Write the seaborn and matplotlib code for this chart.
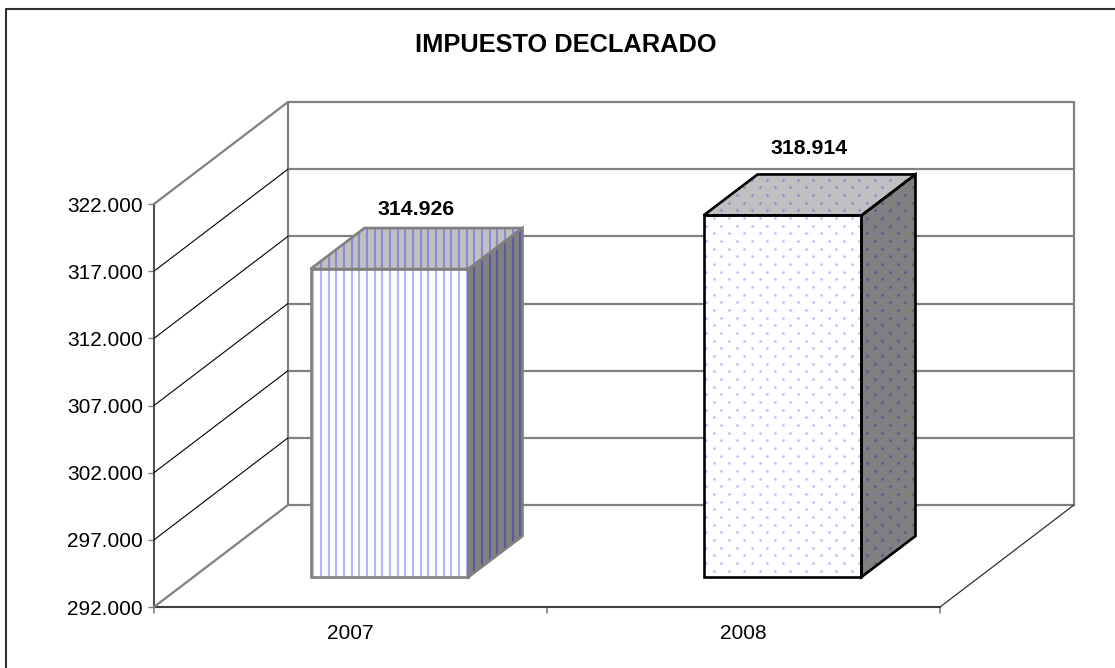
import numpy as np
import matplotlib
matplotlib.use('Agg')
import matplotlib.pyplot as plt
import seaborn as sns
from matplotlib.lines import Line2D
from matplotlib.patches import Polygon
from matplotlib.ticker import FuncFormatter
from matplotlib.transforms import Affine2D, IdentityTransform

TITLE = 'IMPUESTO DECLARADO'
YEARS = ['2007', '2008']
IMPUESTO = [314926, 318914]
Y_MIN = 292000
Y_MAX = 322000
Y_STEP = 5000

W, H = 1115, 668
WALL_DX, WALL_DY = 134, 102
BAR_GAP_DX, BAR_GAP_DY = 39, 30
BAR_DX, BAR_DY = 54, 41
GRAY = '#808080'
PIXELS = IdentityTransform()

sns.set_theme(style='white')
plt.rcParams['font.family'] = ['Liberation Sans', 'DejaVu Sans']

fig = plt.figure(figsize=(W / 100, H / 100), dpi=100, facecolor='white')
ax = fig.add_axes([154 / W, (H - 607) / H, 786 / W, 403 / H])

sns.barplot(x=YEARS, y=IMPUESTO, color='white', width=0.402, saturation=1, ax=ax)
ax.set_xlim(-0.5, 1.5)
ax.set_ylim(Y_MIN, Y_MAX)
ticks = np.arange(Y_MIN, Y_MAX + 1, Y_STEP)
ax.set_yticks(ticks)
ax.yaxis.set_major_formatter(FuncFormatter(lambda v, _: f'{v:,.0f}'.replace(',', '.')))
ax.set_xlabel('')
ax.set_ylabel('')
ax.patch.set_alpha(0)
ax.autoscale(False)

for side in ['top', 'right']:
    ax.spines[side].set_visible(False)
ax.spines['left'].set_color('#505050')
ax.spines['bottom'].set_color('#404040')
for side in ['left', 'bottom']:
    ax.spines[side].set_linewidth(1.5)
ax.tick_params(axis='y', left=True, length=4.3, width=1, color=GRAY, labelsize=15, labelcolor='black', pad=3.6)
ax.set_xticks([0, 1], YEARS)
ax.tick_params(axis='x', bottom=False, labelsize=15, labelcolor='black', pad=6)
for x in [-0.5, 0.5, 1.5]:
    ax.plot([x, x], [0, -0.016], transform=ax.get_xaxis_transform(), color=GRAY, lw=1.2, clip_on=False)


def to_px(x, y):
    return ax.transData.transform((x, y))


# back wall and side wall of the 3d box
left_x, right_x = ax.get_xlim()
wall_shift = ax.transData + Affine2D().translate(WALL_DX, WALL_DY)
for tick in ticks:
    ax.plot([left_x, right_x], [tick, tick], transform=wall_shift, color=GRAY, lw=1.6, zorder=1, clip_on=False)
    p = to_px(left_x, tick)
    edge = tick in (Y_MIN, Y_MAX)
    fig.add_artist(Line2D([p[0], p[0] + WALL_DX], [p[1], p[1] + WALL_DY], transform=PIXELS,
                          color=GRAY if edge else 'black', lw=1.6 if edge else 0.8, zorder=1))
for x in [left_x, right_x]:
    ax.plot([x, x], [Y_MIN, Y_MAX], transform=wall_shift, color=GRAY, lw=1.6, zorder=1, clip_on=False)
p = to_px(right_x, Y_MIN)
fig.add_artist(Line2D([p[0], p[0] + WALL_DX], [p[1], p[1] + WALL_DY], transform=PIXELS, color='#303030', lw=0.9, zorder=1))


def stripes(poly, color):
    xs = np.arange(313.3, 540, 7.67)
    lines = ax.vlines(xs, 0, H, transform=PIXELS, colors=color, lw=1.5, zorder=4)
    lines.set_clip_path(poly)


def dots(poly, color, halo):
    xs = np.arange(706, 930, 15.33)
    ys = np.arange(H - 225.7 + 4 * 15.33, H - 590, -15.33)
    gx, gy = np.meshgrid(xs, ys)
    hx, hy = gx + 7.67, gy - 7.67
    px = np.r_[gx.ravel(), hx.ravel()]
    py = np.r_[gy.ravel(), hy.ravel()]
    for size, col in [(7, halo), (1.8, color)]:
        pts = ax.scatter(px, py, s=size, color=col, lw=0, transform=PIXELS, zorder=4)
        pts.set_clip_path(poly)


bar_shift = ax.transData + Affine2D().translate(BAR_GAP_DX, BAR_GAP_DY)
for i, (bar, value) in enumerate(zip(ax.patches, IMPUESTO)):
    bar.set_y(Y_MIN)
    bar.set_height(value - Y_MIN)
    bar.set_transform(bar_shift)
    bar.set_clip_on(False)
    bar.set_zorder(3)

    x0, x1 = bar.get_x(), bar.get_x() + bar.get_width()
    bl = to_px(x0, Y_MIN) + (BAR_GAP_DX, BAR_GAP_DY)
    br = to_px(x1, Y_MIN) + (BAR_GAP_DX, BAR_GAP_DY)
    tl = to_px(x0, value) + (BAR_GAP_DX, BAR_GAP_DY)
    tr = to_px(x1, value) + (BAR_GAP_DX, BAR_GAP_DY)
    back = np.array([BAR_DX, BAR_DY])
    front_pts = [bl, br, tr, tl]
    top_pts = [tl, tr, tr + back, tl + back]
    side_pts = [br, br + back, tr + back, tr]

    faces = []
    for pts, face in [(front_pts, 'white'), (top_pts, '#c0c0c0'), (side_pts, GRAY)]:
        poly = Polygon(pts, closed=True, transform=PIXELS, facecolor=face, edgecolor='none', zorder=3, clip_on=False)
        ax.add_patch(poly)
        faces.append(poly)

    if i == 0:
        stripes(faces[0], '#b4b4ff')
        stripes(faces[1], '#8a8ad2')
        stripes(faces[2], '#5a5aa0')
        edge = GRAY
    else:
        dots(faces[0], '#a8a8f8', '#eaeaff')
        dots(faces[1], '#8080c0', '#b0b0c8')
        dots(faces[2], '#50508c', '#707088')
        edge = 'black'

    for pts in [front_pts, top_pts, side_pts]:
        ax.add_patch(Polygon(pts, closed=True, transform=PIXELS, fill=False, edgecolor=edge, lw=1.9,
                             joinstyle='miter', zorder=5, clip_on=False))

    lift = 19 if i == 0 else 26
    mid = (tl + tr) / 2 + back / 2 + (0, back[1] / 2 + lift)
    ax.text(mid[0], mid[1], f'{value:,.0f}'.replace(',', '.'), transform=PIXELS, ha='center', va='center',
            fontsize=15.3, fontweight='bold', color='black', zorder=6)

fig.text(566 / W, 1 - 45 / H, TITLE, ha='center', va='center', fontsize=18.3, fontweight='bold', color='black')

# chart area border, cut off on the right and at the bottom of the picture
fig.add_artist(Line2D([6, 6, W], [0, H - 9, H - 9], transform=PIXELS, color='#303030', lw=1.5))

fig.savefig('out.png', dpi=100)
